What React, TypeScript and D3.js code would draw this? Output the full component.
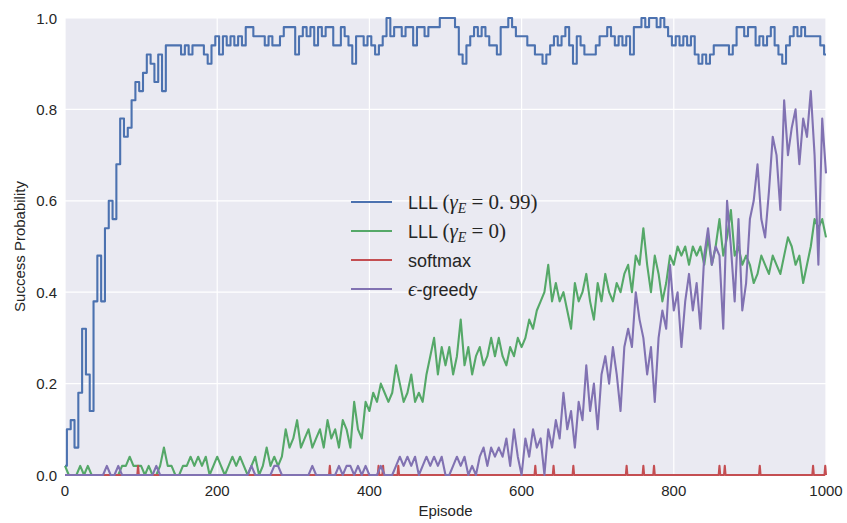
import React from 'react';
import * as d3 from 'd3';

// Episode spacing of the sampled values below
const episodeStep = 5;

// LLL (gamma_E = 0.99) success probability, every 5 episodes from 0 to 1000
const blueValues = [
  0.02, 0.10, 0.12, 0.06, 0.18, 0.32, 0.22, 0.14, 0.38, 0.48, 0.38, 0.54, 0.60, 0.56, 0.68, 0.78, 0.74, 0.76, 0.82, 0.86,
  0.84, 0.88, 0.92, 0.90, 0.86, 0.92, 0.84, 0.94, 0.94, 0.94, 0.94, 0.92, 0.94, 0.92, 0.94, 0.94, 0.94, 0.92, 0.90, 0.94,
  0.96, 0.92, 0.96, 0.94, 0.96, 0.94, 0.96, 0.94, 0.98, 0.98, 0.96, 0.96, 0.96, 0.94, 0.96, 0.94, 0.94, 0.96, 0.98, 0.98,
  0.98, 0.92, 0.96, 0.98, 0.96, 0.98, 0.94, 0.98, 0.96, 0.98, 0.98, 0.94, 0.94, 0.98, 0.96, 0.94, 0.90, 0.96, 0.96, 0.94,
  0.96, 0.94, 0.92, 0.94, 0.96, 1.00, 0.96, 0.98, 0.98, 0.96, 0.98, 0.98, 0.94, 0.98, 0.98, 0.96, 0.98, 0.98, 0.98, 1.00,
  1.00, 1.00, 1.00, 0.98, 0.92, 0.90, 0.94, 0.96, 0.98, 0.96, 0.98, 0.96, 0.94, 0.94, 0.92, 0.98, 0.98, 1.00, 0.98, 0.96,
  0.96, 0.96, 0.94, 0.94, 0.92, 0.92, 0.90, 0.92, 0.94, 0.96, 0.94, 0.96, 0.98, 0.94, 0.90, 0.96, 0.94, 0.92, 0.92, 0.92,
  0.94, 0.96, 0.96, 0.98, 0.96, 0.94, 0.96, 0.94, 0.96, 0.92, 0.98, 0.98, 1.00, 0.98, 1.00, 1.00, 0.98, 1.00, 0.98, 0.96,
  0.94, 0.96, 0.94, 0.96, 0.94, 0.96, 0.92, 0.90, 0.92, 0.90, 0.92, 0.94, 0.94, 0.94, 0.94, 0.92, 0.94, 0.98, 0.98, 0.96,
  0.98, 0.98, 0.94, 0.96, 0.94, 0.96, 0.98, 0.94, 0.92, 0.90, 0.94, 0.96, 0.98, 0.96, 0.98, 0.96, 0.96, 0.96, 0.96, 0.94,
  0.92,
];

// LLL (gamma_E = 0)
const greenValues = [
  0.02, 0, 0, 0, 0.02, 0, 0.02, 0, 0, 0, 0, 0, 0, 0, 0, 0.02, 0.02, 0.04, 0.02, 0.02,
  0.02, 0, 0.02, 0, 0, 0.02, 0.06, 0.02, 0.02, 0, 0, 0.02, 0.02, 0.04, 0.02, 0.04, 0.02, 0.04, 0, 0.02,
  0.04, 0.02, 0, 0.02, 0.04, 0.02, 0.04, 0.02, 0, 0.02, 0.04, 0, 0.02, 0.06, 0.02, 0.04, 0.02, 0.04, 0.10, 0.06,
  0.08, 0.12, 0.06, 0.08, 0.10, 0.06, 0.08, 0.10, 0.06, 0.12, 0.08, 0.10, 0.06, 0.12, 0.10, 0.06, 0.16, 0.10, 0.08, 0.16,
  0.14, 0.18, 0.16, 0.20, 0.18, 0.16, 0.18, 0.24, 0.20, 0.16, 0.18, 0.22, 0.16, 0.18, 0.16, 0.22, 0.26, 0.30, 0.22, 0.28,
  0.24, 0.28, 0.22, 0.26, 0.34, 0.24, 0.28, 0.22, 0.26, 0.28, 0.24, 0.26, 0.30, 0.26, 0.30, 0.26, 0.24, 0.28, 0.26, 0.30,
  0.28, 0.30, 0.34, 0.32, 0.36, 0.38, 0.40, 0.46, 0.38, 0.42, 0.38, 0.40, 0.36, 0.32, 0.42, 0.38, 0.40, 0.44, 0.38, 0.34,
  0.42, 0.38, 0.44, 0.40, 0.38, 0.42, 0.40, 0.44, 0.46, 0.40, 0.48, 0.46, 0.54, 0.46, 0.40, 0.48, 0.44, 0.38, 0.42, 0.48,
  0.46, 0.50, 0.48, 0.50, 0.46, 0.50, 0.48, 0.50, 0.46, 0.52, 0.46, 0.50, 0.56, 0.48, 0.52, 0.58, 0.48, 0.50, 0.46, 0.48,
  0.46, 0.42, 0.44, 0.48, 0.46, 0.44, 0.48, 0.46, 0.44, 0.48, 0.52, 0.50, 0.46, 0.48, 0.42, 0.46, 0.50, 0.56, 0.54, 0.56,
  0.52,
];

// epsilon-greedy
const purpleValues = [
  0, 0, 0, 0, 0, 0, 0, 0, 0, 0, 0, 0.02, 0, 0, 0.02, 0, 0, 0, 0, 0,
  0, 0, 0, 0, 0.02, 0, 0, 0, 0, 0, 0, 0, 0, 0, 0, 0, 0, 0, 0, 0,
  0, 0, 0, 0, 0, 0, 0, 0, 0, 0.02, 0, 0, 0, 0, 0, 0.02, 0.02, 0, 0, 0,
  0, 0, 0, 0, 0, 0.02, 0, 0, 0, 0, 0, 0, 0.02, 0, 0.02, 0.02, 0, 0.02, 0, 0.02,
  0, 0, 0, 0.02, 0, 0, 0, 0.02, 0.04, 0.02, 0.04, 0.02, 0.04, 0, 0.02, 0.04, 0.02, 0.04, 0.02, 0.04,
  0, 0, 0.02, 0.04, 0.02, 0.04, 0, 0.02, 0, 0.04, 0.06, 0.02, 0.06, 0.04, 0.06, 0.04, 0.08, 0.02, 0.10, 0.04,
  0, 0.08, 0.04, 0.10, 0.06, 0.08, 0, 0.10, 0.06, 0.12, 0.08, 0.18, 0.10, 0.14, 0.06, 0.16, 0.12, 0.24, 0.14, 0.20,
  0.10, 0.22, 0.26, 0.20, 0.28, 0.22, 0.14, 0.28, 0.32, 0.28, 0.40, 0.34, 0.30, 0.22, 0.28, 0.16, 0.30, 0.36, 0.32, 0.46,
  0.36, 0.40, 0.28, 0.38, 0.44, 0.36, 0.42, 0.32, 0.48, 0.54, 0.46, 0.50, 0.48, 0.32, 0.60, 0.50, 0.38, 0.56, 0.36, 0.42,
  0.56, 0.60, 0.68, 0.56, 0.52, 0.62, 0.74, 0.70, 0.58, 0.82, 0.70, 0.76, 0.80, 0.68, 0.78, 0.74, 0.84, 0.70, 0.46, 0.78,
  0.66,
];

// softmax: episodes where the success probability reached 0.02 (zero elsewhere)
const softmaxSpikeEpisodes = [96, 348, 412, 418, 438, 618, 642, 668, 738, 760, 774, 860, 867, 913, 983, 999];

const xTicks = [0, 200, 400, 600, 800, 1000];
const yTicks = [0, 0.2, 0.4, 0.6, 0.8, 1.0];

const seriesNames = ['LLL (γE = 0.99)', 'LLL (γE = 0)', 'softmax', 'ε-greedy'];
const seriesColors = ['#4C72B0', '#55A868', '#C44E52', '#8172B2'];

const W = 847;
const H = 523;
const PL = 65, PR = 826, PT = 18, PB = 475;
const TEXT = '#262626';
const SANS = '"Liberation Sans", Arial, sans-serif';
const SERIF = '"Liberation Serif", "Times New Roman", serif';

export default function App() {
  const x = d3.scaleLinear().domain([0, 1000]).range([PL, PR]);
  const y = d3.scaleLinear().domain([0, 1]).range([PB, PT]);

  const toPts = (vals: number[]) => vals.map((v, i) => [i * episodeStep, v] as [number, number]);
  const softmaxPts = d3.range(0, 1001).map(
    (e) => [e, softmaxSpikeEpisodes.includes(e) ? 0.02 : 0] as [number, number]
  );

  const stepLine = d3
    .line<[number, number]>()
    .x((d) => x(d[0]))
    .y((d) => y(d[1]))
    .curve(d3.curveStep);
  const straightLine = d3
    .line<[number, number]>()
    .x((d) => x(d[0]))
    .y((d) => y(d[1]));

  const series = [toPts(blueValues), toPts(greenValues), softmaxPts, toPts(purpleValues)];

  const legendX = 351;
  const legendY = [202, 231, 260, 289];

  return (
    <svg width={W} height={H} style={{ position: 'absolute', left: 0, top: 0, background: '#fff' }}>
      <rect x={PL} y={PT} width={PR - PL} height={PB - PT} fill="#EAEAF2" />
      {xTicks.map((t) => (
        <line key={'gx' + t} x1={x(t)} x2={x(t)} y1={PT} y2={PB} stroke="#fff" strokeWidth={1.2} />
      ))}
      {yTicks.map((t) => (
        <line key={'gy' + t} x1={PL} x2={PR} y1={y(t)} y2={y(t)} stroke="#fff" strokeWidth={1.2} />
      ))}
      {series.map((pts, i) => (
        <path
          key={'s' + i}
          d={(i === 0 ? stepLine(pts) : straightLine(pts)) || ''}
          fill="none"
          stroke={seriesColors[i]}
          strokeWidth={2.1}
          strokeLinejoin="round"
        />
      ))}
      {xTicks.map((t) => (
        <text key={'tx' + t} x={x(t)} y={496} textAnchor="middle" fontFamily={SANS} fontSize={15} fill={TEXT}>
          {t}
        </text>
      ))}
      {yTicks.map((t) => (
        <text key={'ty' + t} x={57} y={y(t) + 5.5} textAnchor="end" fontFamily={SANS} fontSize={15} fill={TEXT}>
          {t.toFixed(1)}
        </text>
      ))}
      <text x={(PL + PR) / 2} y={516} textAnchor="middle" fontFamily={SANS} fontSize={15} fill={TEXT}>
        Episode
      </text>
      <text
        transform={`translate(24.5, ${(PT + PB) / 2}) rotate(-90)`}
        textAnchor="middle"
        fontFamily={SANS}
        fontSize={15}
        fill={TEXT}
      >
        Success Probability
      </text>
      {seriesNames.map((name, i) => (
        <g key={'lg' + i}>
          <line
            x1={legendX}
            x2={legendX + 41}
            y1={legendY[i]}
            y2={legendY[i]}
            stroke={seriesColors[i]}
            strokeWidth={2.1}
          />
          {i === 0 || i === 1 ? (
            <text x={408} y={legendY[i] + 6.5} fontFamily={SANS} fontSize={18} fill={TEXT}>
              <tspan>LLL </tspan>
              <tspan fontFamily={SERIF} fontSize={21}>(</tspan>
              <tspan fontFamily={SERIF} fontStyle="italic" fontSize={21}>γ</tspan>
              <tspan fontFamily={SERIF} fontStyle="italic" fontSize={14} dy={4}>E</tspan>
              <tspan fontFamily={SERIF} fontSize={21} dy={-4}>{i === 0 ? ' = 0. 99)' : ' = 0)'}</tspan>
            </text>
          ) : i === 3 ? (
            <text x={408} y={legendY[i] + 6.5} fontFamily={SANS} fontSize={18} fill={TEXT}>
              <tspan fontFamily={SERIF} fontStyle="italic" fontSize={21}>ϵ</tspan>
              <tspan>-greedy</tspan>
            </text>
          ) : (
            <text x={408} y={legendY[i] + 6.5} fontFamily={SANS} fontSize={18} fill={TEXT}>
              {name}
            </text>
          )}
        </g>
      ))}
    </svg>
  );
}
